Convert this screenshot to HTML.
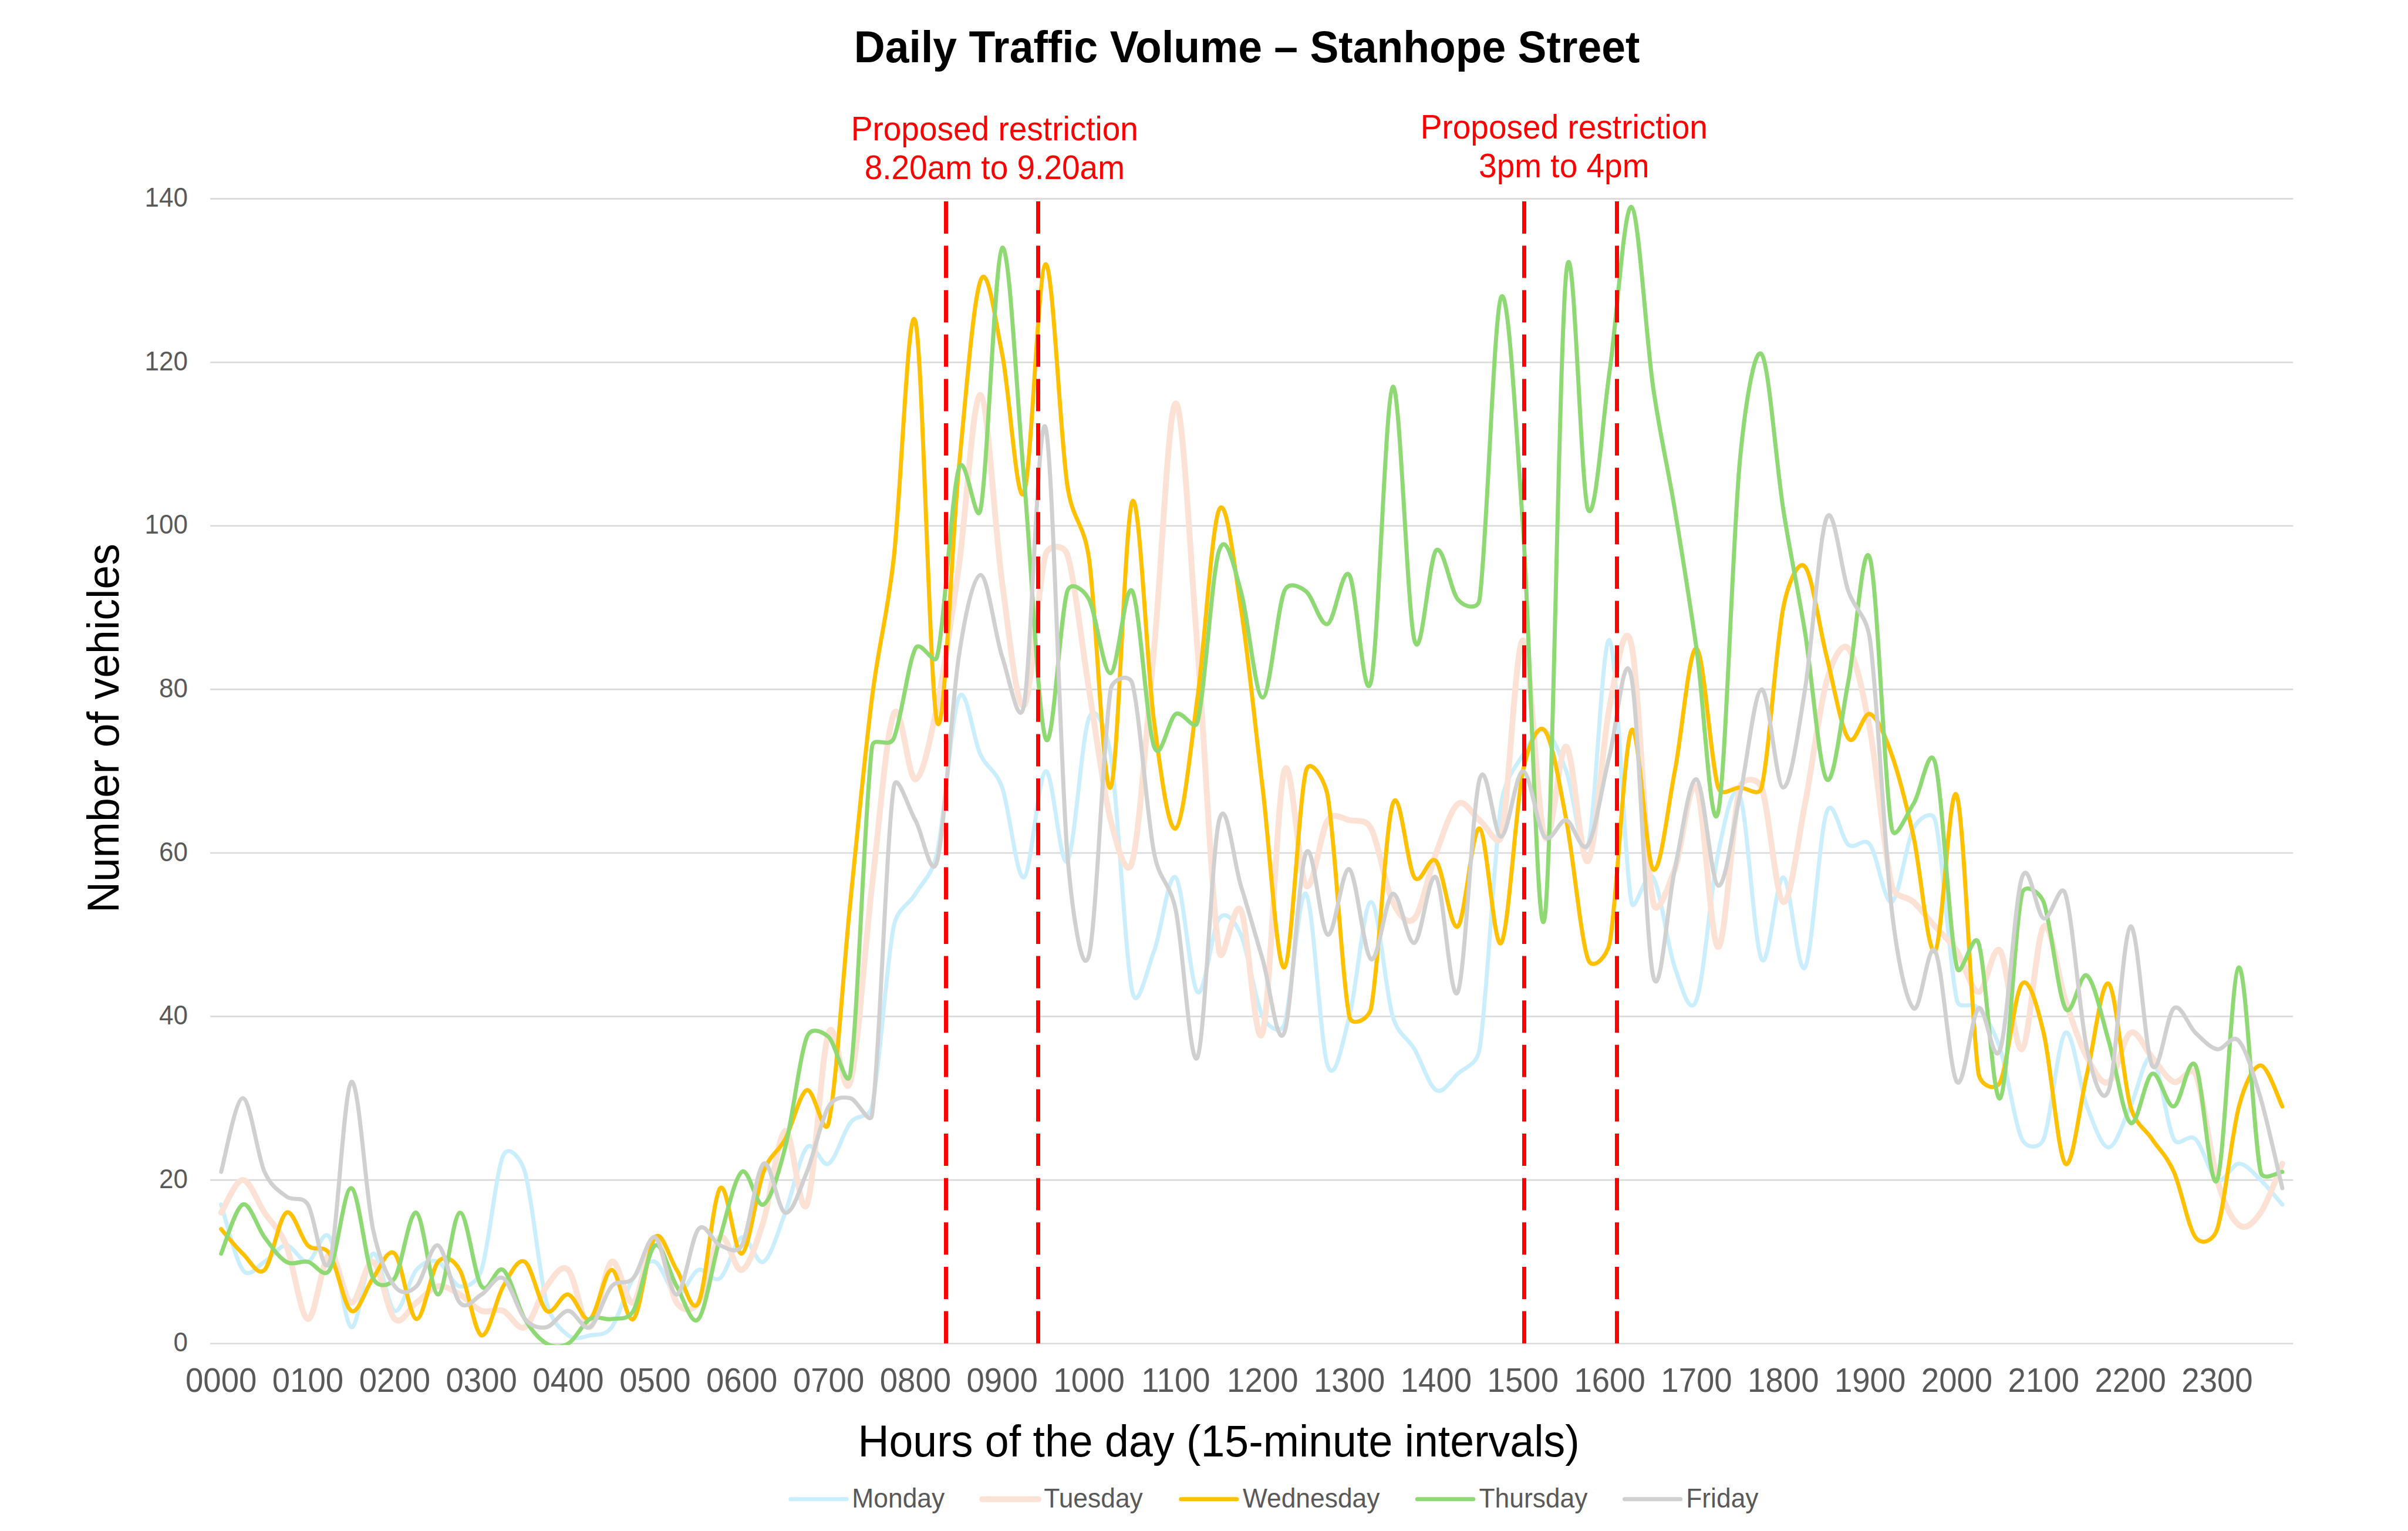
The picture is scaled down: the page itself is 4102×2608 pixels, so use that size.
<!DOCTYPE html>
<html><head><meta charset="utf-8"><title>Daily Traffic Volume – Stanhope Street</title>
<style>html,body{margin:0;padding:0;background:#fff;}svg{display:block;}text{font-family:"Liberation Sans", sans-serif;}</style>
</head><body>
<svg width="4102" height="2608" viewBox="0 0 4102 2608">
<rect width="4102" height="2608" fill="#FFFFFF"/>
<line x1="358.2" y1="2288.7" x2="3906.3" y2="2288.7" stroke="#D9D9D9" stroke-width="2.6"/>
<line x1="358.2" y1="2010.1" x2="3906.3" y2="2010.1" stroke="#D9D9D9" stroke-width="2.6"/>
<line x1="358.2" y1="1731.5" x2="3906.3" y2="1731.5" stroke="#D9D9D9" stroke-width="2.6"/>
<line x1="358.2" y1="1453.0" x2="3906.3" y2="1453.0" stroke="#D9D9D9" stroke-width="2.6"/>
<line x1="358.2" y1="1174.4" x2="3906.3" y2="1174.4" stroke="#D9D9D9" stroke-width="2.6"/>
<line x1="358.2" y1="895.8" x2="3906.3" y2="895.8" stroke="#D9D9D9" stroke-width="2.6"/>
<line x1="358.2" y1="617.2" x2="3906.3" y2="617.2" stroke="#D9D9D9" stroke-width="2.6"/>
<line x1="358.2" y1="338.6" x2="3906.3" y2="338.6" stroke="#D9D9D9" stroke-width="2.6"/>
<text transform="translate(320.0,2302.2) scale(1,1.035)" text-anchor="end" font-size="44" fill="#595959">0</text>
<text transform="translate(320.0,2023.6) scale(1,1.035)" text-anchor="end" font-size="44" fill="#595959">20</text>
<text transform="translate(320.0,1745.0) scale(1,1.035)" text-anchor="end" font-size="44" fill="#595959">40</text>
<text transform="translate(320.0,1466.5) scale(1,1.035)" text-anchor="end" font-size="44" fill="#595959">60</text>
<text transform="translate(320.0,1187.9) scale(1,1.035)" text-anchor="end" font-size="44" fill="#595959">80</text>
<text transform="translate(320.0,909.3) scale(1,1.035)" text-anchor="end" font-size="44" fill="#595959">100</text>
<text transform="translate(320.0,630.7) scale(1,1.035)" text-anchor="end" font-size="44" fill="#595959">120</text>
<text transform="translate(320.0,352.1) scale(1,1.035)" text-anchor="end" font-size="44" fill="#595959">140</text>
<text transform="translate(376.7,2371.1) scale(1,1.035)" text-anchor="middle" font-size="54.6" fill="#595959">0000</text>
<text transform="translate(524.5,2371.1) scale(1,1.035)" text-anchor="middle" font-size="54.6" fill="#595959">0100</text>
<text transform="translate(672.4,2371.1) scale(1,1.035)" text-anchor="middle" font-size="54.6" fill="#595959">0200</text>
<text transform="translate(820.2,2371.1) scale(1,1.035)" text-anchor="middle" font-size="54.6" fill="#595959">0300</text>
<text transform="translate(968.0,2371.1) scale(1,1.035)" text-anchor="middle" font-size="54.6" fill="#595959">0400</text>
<text transform="translate(1115.9,2371.1) scale(1,1.035)" text-anchor="middle" font-size="54.6" fill="#595959">0500</text>
<text transform="translate(1263.7,2371.1) scale(1,1.035)" text-anchor="middle" font-size="54.6" fill="#595959">0600</text>
<text transform="translate(1411.6,2371.1) scale(1,1.035)" text-anchor="middle" font-size="54.6" fill="#595959">0700</text>
<text transform="translate(1559.4,2371.1) scale(1,1.035)" text-anchor="middle" font-size="54.6" fill="#595959">0800</text>
<text transform="translate(1707.2,2371.1) scale(1,1.035)" text-anchor="middle" font-size="54.6" fill="#595959">0900</text>
<text transform="translate(1855.1,2371.1) scale(1,1.035)" text-anchor="middle" font-size="54.6" fill="#595959">1000</text>
<text transform="translate(2002.9,2371.1) scale(1,1.035)" text-anchor="middle" font-size="54.6" fill="#595959">1100</text>
<text transform="translate(2150.8,2371.1) scale(1,1.035)" text-anchor="middle" font-size="54.6" fill="#595959">1200</text>
<text transform="translate(2298.6,2371.1) scale(1,1.035)" text-anchor="middle" font-size="54.6" fill="#595959">1300</text>
<text transform="translate(2446.4,2371.1) scale(1,1.035)" text-anchor="middle" font-size="54.6" fill="#595959">1400</text>
<text transform="translate(2594.3,2371.1) scale(1,1.035)" text-anchor="middle" font-size="54.6" fill="#595959">1500</text>
<text transform="translate(2742.1,2371.1) scale(1,1.035)" text-anchor="middle" font-size="54.6" fill="#595959">1600</text>
<text transform="translate(2890.0,2371.1) scale(1,1.035)" text-anchor="middle" font-size="54.6" fill="#595959">1700</text>
<text transform="translate(3037.8,2371.1) scale(1,1.035)" text-anchor="middle" font-size="54.6" fill="#595959">1800</text>
<text transform="translate(3185.6,2371.1) scale(1,1.035)" text-anchor="middle" font-size="54.6" fill="#595959">1900</text>
<text transform="translate(3333.5,2371.1) scale(1,1.035)" text-anchor="middle" font-size="54.6" fill="#595959">2000</text>
<text transform="translate(3481.3,2371.1) scale(1,1.035)" text-anchor="middle" font-size="54.6" fill="#595959">2100</text>
<text transform="translate(3629.2,2371.1) scale(1,1.035)" text-anchor="middle" font-size="54.6" fill="#595959">2200</text>
<text transform="translate(3777.0,2371.1) scale(1,1.035)" text-anchor="middle" font-size="54.6" fill="#595959">2300</text>
<clipPath id="pa"><rect x="358.2" y="300" width="3548.1" height="1991.3"/></clipPath>
<g clip-path="url(#pa)">
<path d="M376.7,2051.9 C382.8,2070.5 401.3,2147.1 413.6,2163.3 C425.6,2179.1 438.3,2156.4 450.6,2149.4 C462.9,2142.4 475.2,2121.6 487.6,2121.6 C499.9,2121.6 512.2,2151.7 524.5,2149.4 C536.8,2147.1 549.2,2089.1 561.5,2107.6 C573.8,2126.2 586.1,2256.2 598.4,2260.8 C610.8,2265.5 623.1,2140.1 635.4,2135.5 C647.7,2130.8 660.0,2228.3 672.4,2233.0 C684.7,2237.6 697.0,2177.3 709.3,2163.3 C721.6,2149.4 734.0,2144.8 746.3,2149.4 C758.6,2154.1 770.9,2188.9 783.2,2191.2 C795.6,2193.5 812.9,2185.3 820.2,2163.3 C832.5,2126.2 844.8,1996.2 857.2,1968.3 C866.5,1947.2 887.6,1974.0 894.1,1996.2 C906.4,2038.0 918.8,2172.6 931.1,2219.1 C939.7,2251.4 955.7,2265.5 968.0,2274.8 C980.4,2284.1 992.7,2277.1 1005.0,2274.8 C1017.3,2272.4 1030.0,2276.6 1042.0,2260.8 C1054.3,2244.6 1066.6,2195.8 1078.9,2177.3 C1091.2,2158.7 1103.6,2144.8 1115.9,2149.4 C1128.2,2154.1 1140.5,2202.8 1152.8,2205.1 C1165.2,2207.4 1177.5,2168.0 1189.8,2163.3 C1202.1,2158.7 1214.4,2186.6 1226.8,2177.3 C1239.1,2168.0 1251.4,2112.3 1263.7,2107.6 C1276.0,2103.0 1288.4,2156.4 1300.7,2149.4 C1313.0,2142.4 1325.3,2098.3 1337.6,2065.8 C1350.0,2033.3 1362.3,1968.3 1374.6,1954.4 C1386.9,1940.5 1399.2,1989.2 1411.6,1982.3 C1423.9,1975.3 1436.2,1928.9 1448.5,1912.6 C1460.8,1896.4 1480.5,1907.4 1485.5,1884.8 C1497.8,1829.0 1510.1,1638.7 1522.4,1578.3 C1529.1,1545.6 1547.1,1543.5 1559.4,1522.6 C1571.7,1501.7 1587.8,1491.5 1596.4,1453.0 C1608.7,1397.2 1621.0,1216.2 1633.3,1188.3 C1645.6,1160.5 1658.0,1260.3 1670.3,1285.8 C1682.6,1311.3 1696.1,1310.0 1707.2,1341.5 C1719.6,1376.4 1731.9,1499.4 1744.2,1494.7 C1756.5,1490.1 1768.8,1318.3 1781.2,1313.7 C1793.5,1309.0 1805.8,1482.0 1818.1,1466.9 C1830.4,1451.8 1842.8,1253.3 1855.1,1223.1 C1867.4,1193.0 1886.3,1249.9 1892.0,1285.8 C1904.4,1363.6 1916.7,1634.0 1929.0,1689.8 C1937.5,1728.2 1953.6,1652.6 1966.0,1620.1 C1978.3,1587.6 1990.6,1483.1 2002.9,1494.7 C2015.2,1506.4 2027.6,1678.1 2039.9,1689.8 C2052.2,1701.4 2064.5,1580.6 2076.8,1564.4 C2089.2,1548.1 2104.4,1571.1 2113.8,1592.2 C2126.1,1620.1 2138.4,1706.0 2150.8,1731.5 C2159.3,1749.3 2181.1,1764.1 2187.7,1745.5 C2200.0,1710.6 2212.4,1511.0 2224.7,1522.6 C2237.0,1534.2 2249.3,1780.3 2261.6,1815.1 C2274.0,1849.9 2286.9,1775.7 2298.6,1731.5 C2310.9,1685.1 2323.2,1536.5 2335.6,1536.5 C2347.9,1536.5 2360.2,1689.8 2372.5,1731.5 C2382.0,1763.6 2397.2,1766.4 2409.5,1787.3 C2421.8,1808.1 2434.1,1849.9 2446.4,1856.9 C2458.8,1863.9 2471.1,1840.7 2483.4,1829.0 C2495.7,1817.4 2515.9,1814.8 2520.4,1787.3 C2532.7,1710.6 2545.0,1453.0 2557.3,1369.4 C2564.0,1324.2 2582.0,1306.7 2594.3,1285.8 C2606.6,1264.9 2618.9,1239.4 2631.2,1244.0 C2643.6,1248.7 2655.9,1281.2 2668.2,1313.7 C2680.5,1346.2 2692.8,1476.2 2705.2,1439.0 C2717.5,1401.9 2729.8,1074.6 2742.1,1090.8 C2754.4,1107.1 2766.8,1469.2 2779.1,1536.5 C2784.1,1564.0 2803.7,1476.2 2816.0,1494.7 C2828.4,1513.3 2840.7,1613.1 2853.0,1648.0 C2864.2,1679.5 2878.1,1734.9 2890.0,1703.7 C2902.3,1671.2 2914.6,1511.0 2926.9,1453.0 C2937.7,1402.0 2951.6,1325.3 2963.9,1355.5 C2976.2,1385.6 2988.5,1610.8 3000.8,1634.0 C3013.2,1657.3 3025.5,1492.4 3037.8,1494.7 C3050.1,1497.1 3062.4,1666.5 3074.8,1648.0 C3087.1,1629.4 3099.4,1418.1 3111.7,1383.3 C3122.9,1351.8 3136.4,1429.7 3148.7,1439.0 C3161.0,1448.3 3174.5,1424.3 3185.6,1439.0 C3198.0,1455.3 3210.3,1541.2 3222.6,1536.5 C3234.9,1531.9 3247.2,1434.4 3259.6,1411.2 C3268.8,1393.7 3291.7,1378.1 3296.5,1397.2 C3308.8,1446.0 3321.2,1650.3 3333.5,1703.7 C3337.9,1722.9 3358.1,1703.7 3370.4,1717.6 C3382.8,1731.5 3395.1,1750.1 3407.4,1787.3 C3419.7,1824.4 3432.0,1914.9 3444.4,1940.5 C3452.4,1957.1 3474.3,1957.6 3481.3,1940.5 C3493.6,1910.3 3506.0,1768.7 3518.3,1759.4 C3530.6,1750.1 3542.9,1852.3 3555.2,1884.8 C3567.6,1917.3 3579.9,1954.4 3592.2,1954.4 C3604.5,1954.4 3616.8,1910.3 3629.2,1884.8 C3641.5,1859.2 3653.8,1791.9 3666.1,1801.2 C3678.4,1810.5 3690.8,1917.3 3703.1,1940.5 C3711.7,1956.8 3727.7,1928.9 3740.0,1940.5 C3752.4,1952.1 3764.7,2003.2 3777.0,2010.1 C3789.3,2017.1 3801.6,1982.3 3814.0,1982.3 C3826.3,1982.3 3838.6,1998.5 3850.9,2010.1 C3863.2,2021.7 3881.7,2044.9 3887.9,2051.9" fill="none" stroke="#CAEEFB" stroke-width="7" stroke-linecap="round" stroke-linejoin="round"/>
<path d="M376.7,2065.8 C382.8,2056.5 401.3,2010.1 413.6,2010.1 C426.0,2010.1 438.3,2047.3 450.6,2065.8 C462.9,2084.4 475.2,2091.4 487.6,2121.6 C499.9,2151.7 512.2,2244.6 524.5,2246.9 C536.8,2249.2 549.2,2140.1 561.5,2135.5 C573.8,2130.8 586.1,2216.7 598.4,2219.1 C610.8,2221.4 623.1,2144.8 635.4,2149.4 C647.7,2154.1 660.0,2235.3 672.4,2246.9 C684.7,2258.5 697.0,2228.3 709.3,2219.1 C721.6,2209.8 734.0,2193.5 746.3,2191.2 C758.6,2188.9 770.9,2198.2 783.2,2205.1 C795.6,2212.1 807.9,2228.3 820.2,2233.0 C832.5,2237.6 844.8,2228.3 857.2,2233.0 C869.5,2237.6 881.8,2267.8 894.1,2260.8 C906.4,2253.9 918.8,2207.4 931.1,2191.2 C943.4,2174.9 955.7,2151.7 968.0,2163.3 C980.4,2174.9 992.7,2263.2 1005.0,2260.8 C1017.3,2258.5 1029.6,2156.4 1042.0,2149.4 C1054.3,2142.4 1066.6,2226.0 1078.9,2219.1 C1091.2,2212.1 1103.6,2107.6 1115.9,2107.6 C1128.2,2107.6 1140.5,2200.5 1152.8,2219.1 C1163.1,2234.5 1179.6,2234.5 1189.8,2219.1 C1202.1,2200.5 1214.4,2116.9 1226.8,2107.6 C1239.1,2098.3 1251.4,2168.0 1263.7,2163.3 C1276.0,2158.7 1288.4,2119.2 1300.7,2079.8 C1313.0,2040.3 1325.3,1931.2 1337.6,1926.5 C1350.0,1921.9 1362.3,2079.8 1374.6,2051.9 C1386.9,2024.0 1399.2,1794.2 1411.6,1759.4 C1423.9,1724.6 1436.2,1884.8 1448.5,1843.0 C1460.8,1801.2 1473.2,1613.1 1485.5,1508.7 C1497.8,1404.2 1510.1,1246.3 1522.4,1216.2 C1534.8,1186.0 1547.1,1329.9 1559.4,1327.6 C1571.7,1325.3 1584.0,1262.6 1596.4,1202.2 C1608.7,1141.9 1621.0,1053.7 1633.3,965.4 C1645.6,877.2 1658.0,668.3 1670.3,672.9 C1682.6,677.6 1694.9,905.1 1707.2,993.3 C1719.6,1081.5 1731.9,1210.4 1744.2,1202.2 C1756.5,1194.1 1768.8,987.5 1781.2,944.6 C1786.3,926.8 1812.5,927.0 1818.1,944.6 C1830.4,982.9 1842.8,1098.9 1855.1,1174.4 C1867.4,1249.8 1879.7,1348.5 1892.0,1397.2 C1901.7,1435.5 1919.3,1505.1 1929.0,1466.9 C1941.3,1418.1 1953.6,1234.7 1966.0,1104.7 C1978.3,974.7 1990.6,686.9 2002.9,686.9 C2015.2,686.9 2027.6,949.2 2039.9,1104.7 C2052.2,1260.3 2064.5,1545.8 2076.8,1620.1 C2083.3,1659.0 2101.5,1527.2 2113.8,1550.5 C2126.1,1573.7 2138.4,1798.9 2150.8,1759.4 C2163.1,1719.9 2175.4,1355.5 2187.7,1313.7 C2200.0,1271.9 2212.4,1494.7 2224.7,1508.7 C2237.0,1522.6 2249.3,1415.8 2261.6,1397.2 C2271.9,1381.8 2286.3,1394.9 2298.6,1397.2 C2310.9,1399.6 2326.3,1393.7 2335.6,1411.2 C2347.9,1434.4 2360.2,1511.0 2372.5,1536.5 C2382.6,1557.4 2397.2,1578.3 2409.5,1564.4 C2421.8,1550.5 2434.1,1485.5 2446.4,1453.0 C2458.8,1420.5 2471.1,1378.7 2483.4,1369.4 C2495.7,1360.1 2508.0,1388.0 2520.4,1397.2 C2532.7,1406.5 2551.9,1447.6 2557.3,1425.1 C2569.6,1374.0 2582.0,1090.8 2594.3,1090.8 C2606.6,1090.8 2618.9,1394.9 2631.2,1425.1 C2643.6,1455.3 2655.9,1264.9 2668.2,1271.9 C2680.5,1278.8 2692.8,1478.5 2705.2,1466.9 C2717.5,1455.3 2729.8,1263.8 2742.1,1202.2 C2753.0,1147.9 2767.1,1043.7 2779.1,1097.8 C2791.4,1153.5 2803.7,1472.7 2816.0,1536.5 C2822.4,1569.4 2841.2,1512.1 2853.0,1480.8 C2865.3,1448.3 2877.6,1319.5 2890.0,1341.5 C2902.3,1363.6 2914.6,1613.1 2926.9,1613.1 C2939.2,1613.1 2951.6,1386.8 2963.9,1341.5 C2968.7,1323.7 2994.3,1324.2 3000.8,1341.5 C3013.2,1374.0 3025.5,1531.9 3037.8,1536.5 C3050.1,1541.2 3062.4,1432.1 3074.8,1369.4 C3087.1,1306.7 3099.4,1204.6 3111.7,1160.5 C3120.7,1128.3 3136.4,1090.8 3148.7,1104.7 C3161.0,1118.7 3173.3,1176.7 3185.6,1244.0 C3198.0,1311.3 3210.3,1459.9 3222.6,1508.7 C3228.3,1531.1 3247.2,1524.9 3259.6,1536.5 C3271.9,1548.1 3284.2,1564.4 3296.5,1578.3 C3308.8,1592.2 3321.2,1601.5 3333.5,1620.1 C3345.8,1638.7 3358.1,1689.8 3370.4,1689.8 C3382.8,1689.8 3395.1,1603.9 3407.4,1620.1 C3419.7,1636.4 3432.0,1794.2 3444.4,1787.3 C3456.7,1780.3 3469.0,1592.2 3481.3,1578.3 C3493.6,1564.4 3506.0,1666.5 3518.3,1703.7 C3530.6,1740.8 3542.9,1778.0 3555.2,1801.2 C3567.6,1824.4 3579.9,1849.9 3592.2,1843.0 C3604.5,1836.0 3616.8,1766.4 3629.2,1759.4 C3641.5,1752.4 3653.8,1787.3 3666.1,1801.2 C3678.4,1815.1 3690.8,1838.3 3703.1,1843.0 C3715.4,1847.6 3732.1,1811.0 3740.0,1829.0 C3752.4,1856.9 3764.7,1967.2 3777.0,2010.1 C3788.7,2051.0 3801.6,2077.4 3814.0,2086.7 C3826.3,2096.0 3838.7,2083.2 3850.9,2065.8 C3863.2,2048.4 3881.7,1996.2 3887.9,1982.3" fill="none" stroke="#FBE2D5" stroke-width="10" stroke-linecap="round" stroke-linejoin="round"/>
<path d="M376.7,2093.7 C382.8,2100.7 401.3,2123.9 413.6,2135.5 C426.0,2147.1 438.3,2174.9 450.6,2163.3 C462.9,2151.7 475.2,2072.8 487.6,2065.8 C499.9,2058.9 512.2,2109.9 524.5,2121.6 C536.8,2133.2 550.6,2119.0 561.5,2135.5 C573.8,2154.1 586.1,2226.0 598.4,2233.0 C610.8,2239.9 623.1,2193.5 635.4,2177.3 C647.7,2161.0 660.0,2123.9 672.4,2135.5 C684.7,2147.1 697.0,2244.6 709.3,2246.9 C721.6,2249.2 734.0,2163.3 746.3,2149.4 C758.6,2135.5 773.2,2146.3 783.2,2163.3 C795.6,2184.2 807.9,2270.1 820.2,2274.8 C832.5,2279.4 844.8,2212.1 857.2,2191.2 C869.5,2170.3 881.8,2142.4 894.1,2149.4 C906.4,2156.4 918.8,2223.7 931.1,2233.0 C943.4,2242.3 955.7,2202.8 968.0,2205.1 C980.4,2207.4 992.7,2253.9 1005.0,2246.9 C1017.3,2239.9 1029.6,2163.3 1042.0,2163.3 C1054.3,2163.3 1066.6,2256.2 1078.9,2246.9 C1091.2,2237.6 1103.6,2121.6 1115.9,2107.6 C1128.2,2093.7 1140.5,2144.8 1152.8,2163.3 C1165.2,2181.9 1177.5,2242.3 1189.8,2219.1 C1202.1,2195.8 1214.4,2038.0 1226.8,2024.0 C1239.1,2010.1 1251.4,2140.1 1263.7,2135.5 C1276.0,2130.8 1288.4,2028.7 1300.7,1996.2 C1312.5,1964.9 1325.3,1963.7 1337.6,1940.5 C1350.0,1917.3 1362.3,1861.5 1374.6,1856.9 C1386.9,1852.3 1404.0,1945.2 1411.6,1912.6 C1423.9,1859.2 1436.2,1657.3 1448.5,1536.5 C1460.8,1415.8 1473.2,1285.8 1485.5,1188.3 C1497.8,1090.8 1510.1,1058.3 1522.4,951.5 C1534.8,844.7 1547.1,501.1 1559.4,547.6 C1571.7,594.0 1584.0,1188.3 1596.4,1230.1 C1608.7,1271.9 1621.0,923.7 1633.3,798.3 C1645.6,672.9 1658.0,510.4 1670.3,477.9 C1682.6,445.4 1694.9,542.9 1707.2,603.3 C1719.6,663.6 1731.9,865.6 1744.2,840.1 C1756.5,814.5 1768.8,452.4 1781.2,450.1 C1793.5,447.8 1805.8,742.6 1818.1,826.2 C1827.7,890.8 1845.8,886.8 1855.1,951.5 C1867.4,1037.4 1879.7,1357.8 1892.0,1341.5 C1904.4,1325.3 1916.7,872.6 1929.0,854.0 C1941.3,835.4 1953.6,1137.2 1966.0,1230.1 C1978.1,1321.7 1990.6,1418.1 2002.9,1411.2 C2015.2,1404.2 2027.6,1278.8 2039.9,1188.3 C2052.2,1097.8 2064.5,893.5 2076.8,867.9 C2089.2,842.4 2101.5,956.2 2113.8,1035.1 C2126.1,1114.0 2138.4,1239.4 2150.8,1341.5 C2163.1,1443.7 2175.4,1652.6 2187.7,1648.0 C2200.0,1643.3 2212.4,1362.4 2224.7,1313.7 C2231.5,1286.6 2256.8,1328.0 2261.6,1355.5 C2274.0,1425.1 2286.3,1671.2 2298.6,1731.5 C2302.5,1750.9 2331.6,1737.0 2335.6,1717.6 C2347.9,1657.3 2360.2,1406.5 2372.5,1369.4 C2384.8,1332.2 2397.2,1478.5 2409.5,1494.7 C2421.8,1511.0 2434.1,1453.0 2446.4,1466.9 C2458.8,1480.8 2471.1,1587.6 2483.4,1578.3 C2495.7,1569.0 2508.0,1406.5 2520.4,1411.2 C2532.7,1415.8 2545.0,1622.4 2557.3,1606.2 C2569.6,1589.9 2582.0,1374.0 2594.3,1313.7 C2602.2,1275.0 2618.9,1230.1 2631.2,1244.0 C2643.6,1258.0 2655.9,1332.2 2668.2,1397.2 C2680.5,1462.2 2692.8,1599.2 2705.2,1634.0 C2712.9,1655.9 2737.8,1628.9 2742.1,1606.2 C2754.4,1541.2 2766.8,1264.9 2779.1,1244.0 C2791.4,1223.1 2803.7,1469.2 2816.0,1480.8 C2828.4,1492.4 2840.7,1376.4 2853.0,1313.7 C2865.3,1251.0 2877.6,1100.1 2890.0,1104.7 C2902.3,1109.4 2914.6,1302.1 2926.9,1341.5 C2932.4,1359.2 2951.6,1341.5 2963.9,1341.5 C2976.2,1341.5 2996.5,1359.5 3000.8,1341.5 C3013.2,1290.5 3025.5,1097.8 3037.8,1035.1 C3045.4,996.4 3062.4,951.5 3074.8,965.4 C3087.1,979.4 3099.4,1069.9 3111.7,1118.7 C3124.0,1167.4 3136.4,1241.7 3148.7,1258.0 C3161.0,1274.2 3173.3,1211.5 3185.6,1216.2 C3198.0,1220.8 3210.3,1251.0 3222.6,1285.8 C3234.9,1320.6 3247.2,1369.4 3259.6,1425.1 C3271.9,1480.8 3284.2,1631.7 3296.5,1620.1 C3308.8,1608.5 3321.2,1320.6 3333.5,1355.5 C3345.8,1390.3 3358.1,1747.8 3370.4,1829.0 C3373.4,1848.6 3398.8,1860.8 3407.4,1843.0 C3419.7,1817.4 3432.0,1689.8 3444.4,1675.8 C3456.7,1661.9 3470.6,1715.0 3481.3,1759.4 C3493.6,1810.5 3506.0,1970.7 3518.3,1982.3 C3530.6,1993.9 3542.9,1880.1 3555.2,1829.0 C3567.6,1778.0 3579.9,1666.5 3592.2,1675.8 C3604.5,1685.1 3616.8,1840.7 3629.2,1884.8 C3638.2,1917.0 3653.8,1921.9 3666.1,1940.5 C3678.4,1959.0 3690.8,1968.3 3703.1,1996.2 C3715.4,2024.0 3727.7,2091.4 3740.0,2107.6 C3752.0,2123.4 3770.8,2112.4 3777.0,2093.7 C3789.3,2056.6 3801.6,1931.2 3814.0,1884.8 C3824.1,1846.7 3838.6,1815.1 3850.9,1815.1 C3863.2,1815.1 3881.7,1873.2 3887.9,1884.8" fill="none" stroke="#FFC000" stroke-width="7" stroke-linecap="round" stroke-linejoin="round"/>
<path d="M376.7,2135.5 C382.8,2121.6 401.3,2056.5 413.6,2051.9 C426.0,2047.3 438.3,2091.4 450.6,2107.6 C462.9,2123.9 475.2,2142.4 487.6,2149.4 C499.9,2156.4 512.2,2147.1 524.5,2149.4 C536.8,2151.7 551.4,2180.4 561.5,2163.3 C573.8,2142.4 586.1,2021.7 598.4,2024.0 C610.8,2026.4 623.1,2151.7 635.4,2177.3 C643.4,2193.9 662.1,2192.7 672.4,2177.3 C684.7,2158.7 697.0,2061.2 709.3,2065.8 C721.6,2070.5 734.0,2205.1 746.3,2205.1 C758.6,2205.1 770.9,2068.2 783.2,2065.8 C795.6,2063.5 807.9,2174.9 820.2,2191.2 C832.5,2207.4 844.8,2154.1 857.2,2163.3 C869.5,2172.6 881.8,2226.0 894.1,2246.9 C906.4,2267.8 918.8,2281.7 931.1,2288.7 C943.4,2295.7 955.7,2295.7 968.0,2288.7 C980.4,2281.7 992.7,2253.9 1005.0,2246.9 C1017.3,2239.9 1029.6,2249.2 1042.0,2246.9 C1054.3,2244.6 1068.9,2250.0 1078.9,2233.0 C1091.2,2212.1 1103.6,2128.5 1115.9,2121.6 C1128.2,2114.6 1140.5,2170.3 1152.8,2191.2 C1165.2,2212.1 1177.5,2260.8 1189.8,2246.9 C1202.1,2233.0 1214.4,2149.4 1226.8,2107.6 C1239.1,2065.8 1251.4,2005.5 1263.7,1996.2 C1276.0,1986.9 1288.4,2058.9 1300.7,2051.9 C1313.0,2044.9 1325.3,2002.0 1337.6,1954.4 C1350.0,1906.8 1362.3,1797.7 1374.6,1766.4 C1381.4,1749.2 1399.2,1755.9 1411.6,1766.4 C1423.9,1776.8 1443.1,1865.0 1448.5,1829.0 C1460.8,1746.6 1473.2,1367.1 1485.5,1271.9 C1488.0,1252.3 1514.5,1276.0 1522.4,1258.0 C1534.8,1230.1 1547.1,1127.9 1559.4,1104.7 C1568.7,1087.3 1591.7,1137.9 1596.4,1118.7 C1608.7,1067.6 1621.0,840.1 1633.3,798.3 C1644.5,760.5 1662.7,906.6 1670.3,867.9 C1682.6,805.3 1694.9,431.5 1707.2,422.2 C1719.6,412.9 1731.9,672.9 1744.2,812.2 C1756.5,951.5 1768.8,1225.5 1781.2,1258.0 C1793.5,1290.5 1805.8,1046.7 1818.1,1007.2 C1824.0,988.4 1845.8,1003.7 1855.1,1021.2 C1867.4,1044.4 1879.7,1148.8 1892.0,1146.5 C1904.4,1144.2 1916.7,986.3 1929.0,1007.2 C1941.3,1028.1 1953.6,1237.1 1966.0,1271.9 C1977.1,1303.4 1990.6,1223.1 2002.9,1216.2 C2015.2,1209.2 2034.8,1249.2 2039.9,1230.1 C2052.2,1183.7 2064.5,974.7 2076.8,937.6 C2089.2,900.4 2102.7,969.4 2113.8,1007.2 C2126.1,1049.0 2138.4,1188.3 2150.8,1188.3 C2163.1,1188.3 2175.4,1037.4 2187.7,1007.2 C2194.7,990.1 2212.4,997.9 2224.7,1007.2 C2237.0,1016.5 2249.3,1067.6 2261.6,1062.9 C2274.0,1058.3 2286.3,963.1 2298.6,979.4 C2310.9,995.6 2323.2,1213.8 2335.6,1160.5 C2347.9,1107.1 2360.2,670.6 2372.5,659.0 C2384.8,647.4 2397.2,1044.4 2409.5,1090.8 C2421.8,1137.2 2434.1,949.2 2446.4,937.6 C2458.8,926.0 2471.1,1007.2 2483.4,1021.2 C2495.6,1035.0 2517.7,1039.5 2520.4,1021.2 C2532.7,935.3 2545.0,526.7 2557.3,505.8 C2569.6,484.9 2582.0,719.4 2594.3,895.8 C2606.6,1072.2 2618.9,1636.4 2631.2,1564.4 C2643.6,1492.4 2655.9,580.1 2668.2,464.0 C2680.5,347.9 2692.8,840.1 2705.2,867.9 C2717.5,895.8 2729.8,717.0 2742.1,631.1 C2754.4,545.3 2766.8,347.9 2779.1,352.6 C2791.4,357.2 2803.7,573.1 2816.0,659.0 C2828.4,744.9 2840.7,793.7 2853.0,867.9 C2865.3,942.2 2877.6,1018.8 2890.0,1104.7 C2902.3,1190.6 2914.6,1436.7 2926.9,1383.3 C2939.2,1329.9 2951.6,914.4 2963.9,784.4 C2972.6,692.4 2988.5,589.4 3000.8,603.3 C3013.2,617.2 3025.5,789.0 3037.8,867.9 C3050.1,946.9 3062.4,1000.3 3074.8,1076.9 C3087.1,1153.5 3099.4,1313.7 3111.7,1327.6 C3124.0,1341.5 3136.4,1223.1 3148.7,1160.5 C3161.0,1097.8 3173.3,909.7 3185.6,951.5 C3198.0,993.3 3210.3,1341.5 3222.6,1411.2 C3227.5,1438.6 3247.2,1388.0 3259.6,1369.4 C3271.9,1350.8 3286.4,1261.6 3296.5,1299.7 C3308.8,1346.2 3321.2,1596.9 3333.5,1648.0 C3340.0,1675.1 3361.7,1579.7 3370.4,1606.2 C3382.8,1643.3 3395.1,1884.8 3407.4,1870.8 C3419.7,1856.9 3432.0,1578.3 3444.4,1522.6 C3448.6,1503.3 3474.3,1518.1 3481.3,1536.5 C3493.6,1569.0 3506.0,1696.7 3518.3,1717.6 C3530.6,1738.5 3542.9,1652.6 3555.2,1661.9 C3567.6,1671.2 3579.9,1731.5 3592.2,1773.3 C3604.5,1815.1 3616.8,1903.3 3629.2,1912.6 C3641.5,1921.9 3653.8,1833.7 3666.1,1829.0 C3678.4,1824.4 3690.8,1887.1 3703.1,1884.8 C3715.4,1882.4 3727.7,1794.2 3740.0,1815.1 C3752.4,1836.0 3764.7,2038.0 3777.0,2010.1 C3789.3,1982.3 3801.6,1650.3 3814.0,1648.0 C3826.3,1645.6 3838.6,1938.2 3850.9,1996.2 C3854.8,2014.3 3881.7,1996.2 3887.9,1996.2" fill="none" stroke="#8ED973" stroke-width="7" stroke-linecap="round" stroke-linejoin="round"/>
<path d="M376.7,1996.2 C382.8,1975.3 401.3,1870.8 413.6,1870.8 C426.0,1870.8 438.3,1968.3 450.6,1996.2 C461.9,2021.7 475.2,2028.7 487.6,2038.0 C499.9,2047.3 513.6,2035.4 524.5,2051.9 C536.8,2070.5 549.2,2184.2 561.5,2149.4 C573.8,2114.6 586.1,1852.3 598.4,1843.0 C610.8,1833.7 623.1,2035.7 635.4,2093.7 C646.2,2144.7 660.0,2174.9 672.4,2191.2 C683.5,2205.9 697.0,2202.8 709.3,2191.2 C721.6,2179.6 734.0,2116.9 746.3,2121.6 C758.6,2126.2 770.9,2205.1 783.2,2219.1 C795.6,2233.0 807.9,2212.1 820.2,2205.1 C832.5,2198.2 844.8,2170.3 857.2,2177.3 C869.5,2184.2 881.8,2233.0 894.1,2246.9 C906.4,2260.8 918.8,2263.2 931.1,2260.8 C943.4,2258.5 955.7,2233.0 968.0,2233.0 C980.4,2233.0 992.7,2267.8 1005.0,2260.8 C1017.3,2253.9 1029.6,2205.1 1042.0,2191.2 C1054.3,2177.3 1066.6,2191.2 1078.9,2177.3 C1091.2,2163.3 1103.6,2103.0 1115.9,2107.6 C1128.2,2112.3 1140.5,2207.4 1152.8,2205.1 C1165.2,2202.8 1177.5,2107.6 1189.8,2093.7 C1202.1,2079.8 1214.4,2116.9 1226.8,2121.6 C1239.1,2126.2 1255.1,2137.9 1263.7,2121.6 C1276.0,2098.3 1288.4,1991.5 1300.7,1982.3 C1313.0,1973.0 1325.3,2063.5 1337.6,2065.8 C1350.0,2068.2 1362.3,2026.4 1374.6,1996.2 C1386.9,1966.0 1399.2,1905.7 1411.6,1884.8 C1421.6,1867.7 1436.2,1868.5 1448.5,1870.8 C1460.8,1873.2 1482.3,1921.6 1485.5,1898.7 C1497.8,1810.5 1510.1,1425.1 1522.4,1341.5 C1527.3,1308.5 1547.1,1376.4 1559.4,1397.2 C1571.7,1418.1 1586.2,1505.0 1596.4,1466.9 C1608.7,1420.5 1621.0,1199.9 1633.3,1118.7 C1644.1,1047.4 1658.0,979.4 1670.3,979.4 C1682.6,979.4 1694.9,1081.5 1707.2,1118.7 C1719.6,1155.8 1735.7,1247.1 1744.2,1202.2 C1756.5,1137.2 1768.8,686.9 1781.2,728.7 C1793.5,770.4 1805.8,1303.2 1818.1,1453.0 C1825.4,1541.7 1842.8,1673.5 1855.1,1627.1 C1867.4,1580.6 1879.7,1251.5 1892.0,1174.4 C1895.1,1155.5 1924.1,1146.2 1929.0,1164.6 C1941.3,1211.1 1953.6,1388.7 1966.0,1453.0 C1975.8,1504.2 1992.1,1499.5 2002.9,1550.5 C2015.2,1608.5 2027.6,1826.7 2039.9,1801.2 C2052.2,1775.6 2064.5,1446.0 2076.8,1397.2 C2089.2,1348.5 2101.5,1469.2 2113.8,1508.7 C2126.1,1548.1 2138.4,1592.2 2150.8,1634.0 C2163.1,1675.8 2175.4,1789.6 2187.7,1759.4 C2200.0,1729.2 2212.4,1480.8 2224.7,1453.0 C2237.0,1425.1 2249.3,1587.6 2261.6,1592.2 C2274.0,1596.9 2286.3,1473.9 2298.6,1480.8 C2310.9,1487.8 2323.2,1627.1 2335.6,1634.0 C2347.9,1641.0 2360.2,1527.2 2372.5,1522.6 C2384.8,1518.0 2397.2,1610.8 2409.5,1606.2 C2421.8,1601.5 2434.1,1480.8 2446.4,1494.7 C2458.8,1508.7 2471.1,1717.6 2483.4,1689.8 C2495.7,1661.9 2508.0,1371.7 2520.4,1327.6 C2532.7,1283.5 2545.0,1427.4 2557.3,1425.1 C2569.6,1422.8 2582.0,1313.7 2594.3,1313.7 C2606.6,1313.7 2618.9,1411.2 2631.2,1425.1 C2643.6,1439.0 2655.9,1394.9 2668.2,1397.2 C2680.5,1399.6 2692.8,1457.6 2705.2,1439.0 C2717.5,1420.5 2729.8,1333.4 2742.1,1285.8 C2754.4,1238.2 2766.8,1090.8 2779.1,1153.5 C2791.4,1216.2 2803.7,1607.3 2816.0,1661.9 C2828.4,1716.5 2840.7,1536.5 2853.0,1480.8 C2865.3,1425.1 2877.6,1323.0 2890.0,1327.6 C2902.3,1332.2 2914.6,1504.0 2926.9,1508.7 C2939.2,1513.3 2951.6,1411.2 2963.9,1355.5 C2976.2,1299.7 2988.5,1176.7 3000.8,1174.4 C3013.2,1172.1 3025.5,1341.5 3037.8,1341.5 C3050.1,1341.5 3062.4,1251.0 3074.8,1174.4 C3087.1,1097.8 3099.4,909.7 3111.7,881.9 C3124.0,854.0 3136.4,972.4 3148.7,1007.2 C3161.0,1042.1 3179.5,1045.5 3185.6,1090.8 C3198.0,1181.3 3210.3,1446.0 3222.6,1550.5 C3232.6,1635.5 3247.2,1706.0 3259.6,1717.6 C3271.9,1729.2 3284.2,1599.2 3296.5,1620.1 C3308.8,1641.0 3321.2,1826.7 3333.5,1843.0 C3345.8,1859.2 3358.1,1726.9 3370.4,1717.6 C3382.8,1708.3 3395.1,1824.4 3407.4,1787.3 C3419.7,1750.1 3432.0,1531.9 3444.4,1494.7 C3456.7,1457.6 3469.0,1559.7 3481.3,1564.4 C3493.6,1569.0 3509.5,1496.1 3518.3,1522.6 C3530.6,1559.7 3542.9,1731.5 3555.2,1787.3 C3563.8,1825.7 3579.9,1891.7 3592.2,1856.9 C3604.5,1822.1 3616.8,1585.3 3629.2,1578.3 C3641.5,1571.4 3653.8,1791.9 3666.1,1815.1 C3678.4,1838.3 3690.8,1726.9 3703.1,1717.6 C3715.4,1708.3 3727.7,1747.8 3740.0,1759.4 C3752.4,1771.0 3764.7,1784.9 3777.0,1787.3 C3789.3,1789.6 3801.6,1759.4 3814.0,1773.3 C3826.3,1787.3 3838.6,1829.0 3850.9,1870.8 C3863.2,1912.6 3881.7,1998.5 3887.9,2024.0" fill="none" stroke="#D0D0D0" stroke-width="7" stroke-linecap="round" stroke-linejoin="round"/>
</g>
<line x1="1611.5" y1="343" x2="1611.5" y2="2288.5" stroke="#FF0000" stroke-width="7" stroke-dasharray="55 20.62"/>
<line x1="1768.5" y1="343" x2="1768.5" y2="2288.5" stroke="#FF0000" stroke-width="7" stroke-dasharray="55 20.62"/>
<line x1="2596.5" y1="343" x2="2596.5" y2="2288.5" stroke="#FF0000" stroke-width="7" stroke-dasharray="55 20.62"/>
<line x1="2754.5" y1="343" x2="2754.5" y2="2288.5" stroke="#FF0000" stroke-width="7" stroke-dasharray="55 20.62"/>
<text transform="translate(1694.3,239.1) scale(1,1.035)" text-anchor="middle" font-size="55" fill="#FF0000">Proposed restriction</text>
<text transform="translate(1694.3,304.9) scale(1,1.035)" text-anchor="middle" font-size="55" fill="#FF0000">8.20am to 9.20am</text>
<text transform="translate(2664.3,236.3) scale(1,1.035)" text-anchor="middle" font-size="55" fill="#FF0000">Proposed restriction</text>
<text transform="translate(2664.3,302.1) scale(1,1.035)" text-anchor="middle" font-size="55" fill="#FF0000">3pm to 4pm</text>
<text transform="translate(2124.1,105.6) scale(1,1.035)" text-anchor="middle" font-size="73.3" font-weight="bold" fill="#000000">Daily Traffic Volume – Stanhope Street</text>
<text transform="translate(2076.1,2481.0) scale(1,1.035)" text-anchor="middle" font-size="73.5" fill="#000000">Hours of the day (15-minute intervals)</text>
<text transform="translate(201.5,1240.6) rotate(-90) scale(1,1.035)" text-anchor="middle" font-size="73.5" fill="#000000">Number of vehicles</text>
<line x1="1346.8" y1="2553.8" x2="1442.3" y2="2553.8" stroke="#CAEEFB" stroke-width="7" stroke-linecap="round"/>
<text transform="translate(1451.3,2567.7) scale(1,1.035)" font-size="44.4" fill="#595959">Monday</text>
<line x1="1673.3" y1="2553.8" x2="1768.8" y2="2553.8" stroke="#FBE2D5" stroke-width="10" stroke-linecap="round"/>
<text transform="translate(1778.2,2567.7) scale(1,1.035)" font-size="44.4" fill="#595959">Tuesday</text>
<line x1="2011.8" y1="2553.8" x2="2106.9" y2="2553.8" stroke="#FFC000" stroke-width="7" stroke-linecap="round"/>
<text transform="translate(2116.9,2567.7) scale(1,1.035)" font-size="44.4" fill="#595959">Wednesday</text>
<line x1="2414.3" y1="2553.8" x2="2509.8" y2="2553.8" stroke="#8ED973" stroke-width="7" stroke-linecap="round"/>
<text transform="translate(2519.4,2567.7) scale(1,1.035)" font-size="44.4" fill="#595959">Thursday</text>
<line x1="2767.5" y1="2553.8" x2="2862.7" y2="2553.8" stroke="#D0D0D0" stroke-width="7" stroke-linecap="round"/>
<text transform="translate(2872.2,2567.7) scale(1,1.035)" font-size="44.4" fill="#595959">Friday</text>
</svg>
</body></html>
